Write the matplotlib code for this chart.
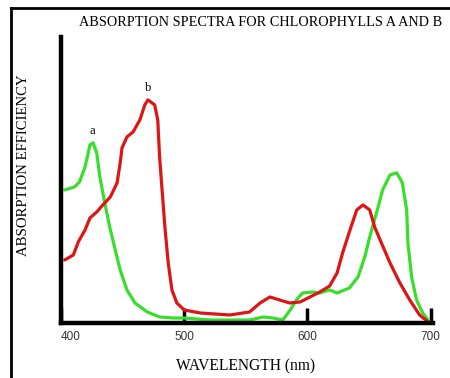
import matplotlib
matplotlib.use("Agg")
import matplotlib.pyplot as plt
from matplotlib.lines import Line2D

# chlorophyll a (green) and b (red), relative absorption vs wavelength (nm)
wl_a = [403, 411, 415, 419.5, 423.5, 426, 429, 431.5, 435.5, 439.5, 444, 448,
        453.5, 460, 470, 480, 491, 500, 521, 553, 564, 572, 580, 586, 591,
        596, 604, 610, 618, 624, 634, 641, 646.5, 650.5, 656, 661, 667, 672.5,
        677, 680.5, 681.5, 684.5, 688.5, 693.5, 699]
abs_a = [133, 136, 141, 156, 178, 180, 170, 146, 120, 96, 73, 53,
         33, 20, 11, 6, 5, 5, 3, 3, 6, 5, 3, 13, 23,
         30, 31, 30, 33, 30, 35, 46, 66, 86, 110, 133, 148, 150,
         140, 113, 80, 46, 23, 10, 1]

wl_b = [403, 410, 414, 419.5, 423.5, 429, 434, 440, 445.5, 448, 449.5, 453.5,
        458.5, 464, 468, 470.5, 476, 478.5, 480, 482, 484.5, 487, 490, 494,
        500, 513, 537, 553, 561.5, 569.5, 577.5, 585.5, 594, 602, 610, 618,
        624, 628.5, 634.5, 640, 645, 650.5, 654.5, 660, 667, 675, 683, 691, 698]
abs_b = [63, 68, 81, 93, 105, 111, 118, 126, 140, 160, 175, 186,
         191, 203, 218, 223, 218, 203, 166, 133, 93, 60, 33, 20,
         13, 10, 8, 11, 20, 26, 23, 20, 21, 26, 31, 37,
         50, 70, 93, 113, 118, 113, 96, 80, 60, 40, 23, 8, 1]

xticks = [400, 500, 600, 700]

serif = "Liberation Serif"
green = "#38de2c"
red = "#dd1515"

fig = plt.figure(figsize=(4.5, 3.78), dpi=100)
ax = fig.add_axes([0.1356, 0.1455, 0.827, 0.757])

ax.plot(wl_a, abs_a, color=green, lw=2.3, solid_joinstyle="round",
        solid_capstyle="round")
ax.plot(wl_b, abs_b, color=red, lw=2.3, solid_joinstyle="round",
        solid_capstyle="round")

ax.text(425.5, 186, "a", family=serif, fontsize=9, ha="center", va="bottom")
ax.text(471, 229, "b", family=serif, fontsize=9, ha="center", va="bottom")

ax.set_xlim(400, 702)
ax.set_ylim(0, 286)
for s in ["top", "right"]:
    ax.spines[s].set_visible(False)
for s in ["left", "bottom"]:
    ax.spines[s].set_linewidth(3.2)
ax.set_yticks([])
ax.set_xticks(xticks)
ax.set_xticklabels([str(t) for t in xticks], color="#333333",
                   family="Liberation Sans", fontsize=8.5)
ax.get_xticklabels()[0].set_ha("left")
ax.tick_params(axis="x", direction="in", length=11, width=2.5, pad=6)

ax.set_xlabel("WAVELENGTH (nm)", family=serif, fontsize=11.2)
ax.xaxis.set_label_coords(0.495, -0.125)
ax.set_ylabel("ABSORPTION EFFICIENCY", family=serif, fontsize=10.6)
ax.yaxis.set_label_coords(-0.083, 0.552)

fig.text(79 / 450, 1 - 22 / 378, "ABSORPTION SPECTRA FOR CHLOROPHYLLS A AND B",
         family=serif, fontsize=10.3, ha="left", va="center")

# frame lines on the left and top edges
fig.add_artist(Line2D([11 / 450, 11 / 450], [0, 1 - 8 / 378], color="black", lw=2))
fig.add_artist(Line2D([11 / 450, 1], [1 - 8 / 378, 1 - 8 / 378], color="black", lw=2))

fig.savefig("out.png", dpi=100)
